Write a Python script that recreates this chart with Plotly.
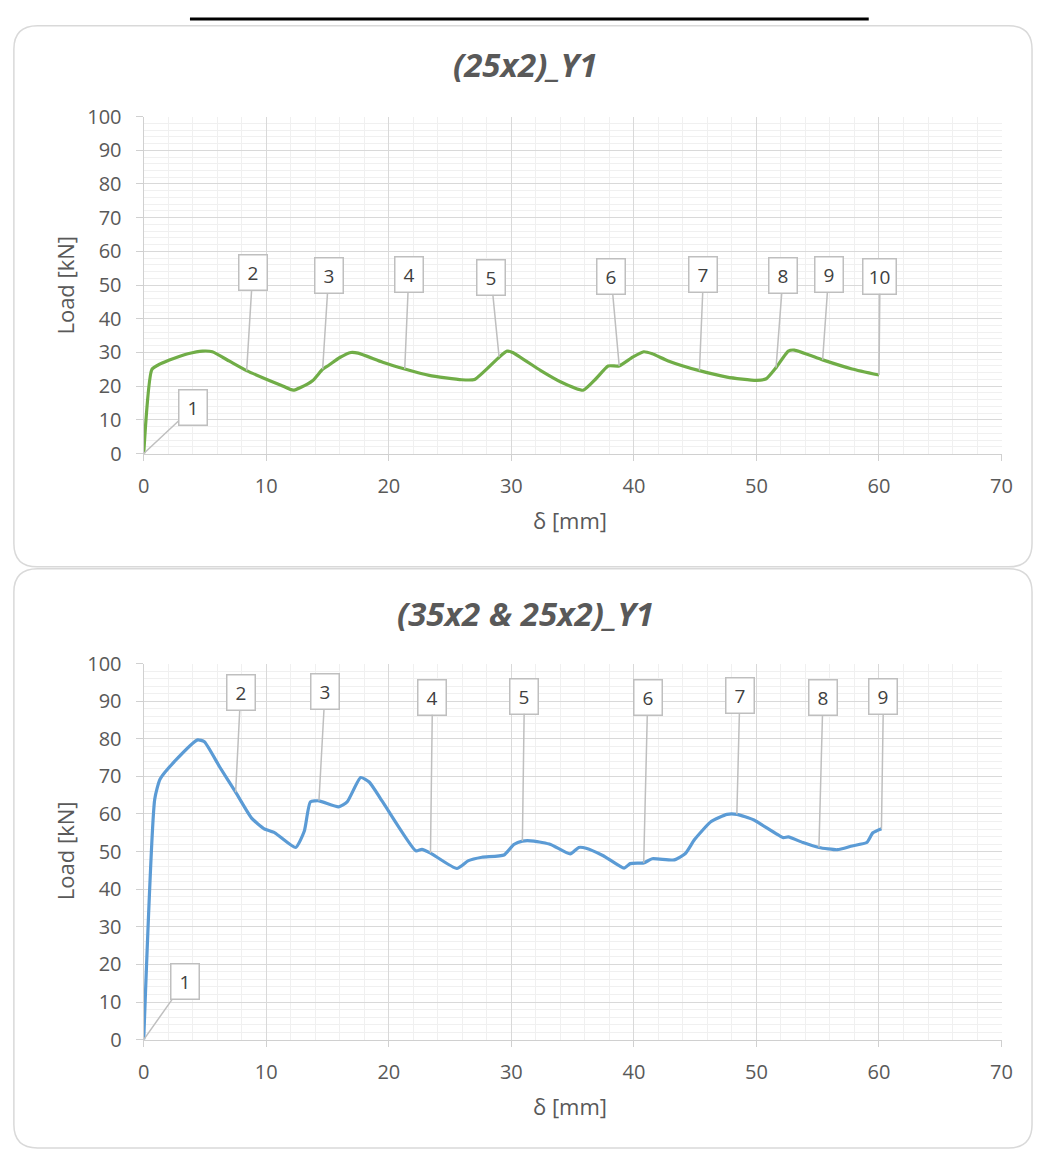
import plotly.graph_objects as go

# ---------------- data ----------------
# Chart 1: (25x2)_Y1
top_delta = [0, 0.67, 1.34, 2.5, 3.6, 4.8, 5.6, 7.0, 8.4, 9.9, 11.2, 12.2, 12.8, 13.8,
             14.6, 15.1, 16.0, 16.9, 17.5, 19.5, 21.3, 23.3, 25.95, 27.0, 29.0, 29.65,
             30.1, 32.4, 34.0, 35.85, 36.9, 37.9, 38.8, 39.9, 40.8, 41.5, 42.8, 45.35,
             47.6, 50.0, 50.8, 51.6, 52.6, 53.1, 55.4, 57.8, 60.0]
top_load = [0, 25.0, 26.6, 28.3, 29.6, 30.4, 30.2, 27.4, 24.6, 22.2, 20.3, 18.8, 19.6, 21.7,
            25.0, 26.2, 28.5, 30.0, 29.8, 27.1, 25.1, 23.2, 21.9, 22.0, 28.6, 30.4,
            30.0, 24.6, 21.3, 18.8, 22.2, 26.0, 26.0, 28.6, 30.2, 29.6, 27.5, 24.6,
            22.7, 21.7, 22.2, 25.5, 30.4, 30.7, 27.8, 25.1, 23.3]
top_label_text = ["1", "2", "3", "4", "5", "6", "7", "8", "9", "10"]
top_label_delta = [0, 8.4, 14.6, 21.3, 29.0, 38.8, 45.35, 51.6, 55.4, 60.0]
top_label_load = [0, 24.6, 25.0, 25.1, 28.6, 26.0, 24.6, 25.5, 27.8, 23.3]

# Chart 2: (35x2 & 25x2)_Y1
bot_delta = [0, 0.9, 1.34, 2.67, 4.4, 4.95, 6.2, 7.5, 8.8, 9.8, 10.7, 12.4, 13.1, 13.6,
             14.3, 15.9, 16.6, 17.7, 18.4, 19.5, 22.2, 22.7, 23.4, 25.55, 26.5, 27.6,
             29.4, 30.2, 30.9, 31.85, 33.2, 34.8, 35.5, 36.1, 37.5, 39.2, 39.7, 40.8,
             41.5, 43.3, 44.2, 44.95, 46.3, 47.6, 48.4, 49.8, 52.2, 52.6, 53.8, 55.1,
             56.6, 57.8, 59.0, 59.5, 60.2]
bot_load = [0, 64.0, 69.3, 74.5, 79.7, 79.2, 72.5, 65.8, 58.9, 56.1, 55.0, 51.1, 55.4, 63.2,
            63.5, 61.9, 63.2, 69.7, 68.5, 63.2, 50.2, 50.6, 49.6, 45.5, 47.6, 48.5,
            49.1, 51.9, 52.8, 52.8, 51.9, 49.4, 51.1, 50.9, 48.9, 45.6, 46.8, 47.0,
            48.1, 47.8, 49.5, 53.2, 58.0, 59.9, 59.9, 58.4, 53.7, 53.9, 52.4, 51.1,
            50.5, 51.5, 52.4, 55.0, 56.1]
bot_label_text = ["1", "2", "3", "4", "5", "6", "7", "8", "9"]
bot_label_delta = [0, 7.5, 14.3, 23.4, 30.9, 40.8, 48.4, 55.1, 60.2]
bot_label_load = [0, 65.8, 63.5, 49.6, 52.8, 47.0, 59.9, 51.1, 56.1]

titles = ["(25x2)_Y1", "(35x2 & 25x2)_Y1"]
x_title = "δ [mm]"
y_title = "Load [kN]"

# ---------------- layout helpers ----------------
W, H = 1045, 1163


def px(x):
    return x / W


def py(y):
    return 1 - y / H


def rounded_rect(x0, y0, x1, y1, r):
    pts = (
        f"M {px(x0 + r)},{py(y0)} L {px(x1 - r)},{py(y0)} "
        f"Q {px(x1)},{py(y0)} {px(x1)},{py(y0 + r)} "
        f"L {px(x1)},{py(y1 - r)} Q {px(x1)},{py(y1)} {px(x1 - r)},{py(y1)} "
        f"L {px(x0 + r)},{py(y1)} Q {px(x0)},{py(y1)} {px(x0)},{py(y1 - r)} "
        f"L {px(x0)},{py(y0 + r)} Q {px(x0)},{py(y0)} {px(x0 + r)},{py(y0)} Z"
    )
    return dict(type="path", path=pts, xref="paper", yref="paper",
                line=dict(color="#d9d9d9", width=1.5), fillcolor="rgba(0,0,0,0)",
                layer="below")


FONT = "Open Sans"
GRAY = "#595959"

fig = go.Figure()
fig.add_trace(go.Scatter(x=top_delta, y=top_load, mode="lines", xaxis="x", yaxis="y",
                         line=dict(color="#70ad47", width=3.2, shape="spline", smoothing=0.5),
                         showlegend=False, hoverinfo="skip"))
fig.add_trace(go.Scatter(x=bot_delta, y=bot_load, mode="lines", xaxis="x2", yaxis="y2",
                         line=dict(color="#5b9bd5", width=3.2, shape="spline", smoothing=0.5),
                         showlegend=False, hoverinfo="skip"))

plot_x = [px(140), px(1012)]
top_y = [py(450), py(105)]
bot_y = [py(1050), py(665)]

xax = dict(range=[0, 70], dtick=10, tick0=0, showgrid=True, gridcolor="#d9d9d9", gridwidth=1.3,
           minor=dict(dtick=2, showgrid=True, gridcolor="#f0f0f0", gridwidth=1.3, ticks=""),
           showline=True, linecolor="#d0d0d0", linewidth=1.3,
           ticks="outside", ticklen=6, tickcolor="#d0d0d0", tickwidth=1.3,
           ticklabelstandoff=8,
           tickfont=dict(family=FONT, size=20, color=GRAY), zeroline=False, fixedrange=True)
yax = dict(range=[0, 100], dtick=10, tick0=0, showgrid=True, gridcolor="#d9d9d9", gridwidth=1.3,
           minor=dict(dtick=2, showgrid=True, gridcolor="#f0f0f0", gridwidth=1.3, ticks=""),
           showline=True, linecolor="#d0d0d0", linewidth=1.3,
           ticks="outside", ticklen=7, tickcolor="#d0d0d0", tickwidth=1.3,
           ticklabelstandoff=10,
           tickfont=dict(family=FONT, size=20, color=GRAY), zeroline=False, fixedrange=True)

fig.update_layout(
    width=W, height=H, margin=dict(l=0, r=0, t=0, b=0),
    paper_bgcolor="white", plot_bgcolor="rgba(0,0,0,0)", showlegend=False,
    xaxis=dict(xax, domain=plot_x, anchor="y"),
    yaxis=dict(yax, domain=top_y, anchor="x"),
    xaxis2=dict(xax, domain=plot_x, anchor="y2"),
    yaxis2=dict(yax, domain=bot_y, anchor="x2"),
)

shapes = [
    rounded_rect(8, 12, 1043, 566, 24),
    rounded_rect(8, 568, 1043, 1161, 24),
    dict(type="line", xref="paper", yref="paper", x0=px(187), x1=px(877), y0=py(5), y1=py(5),
         line=dict(color="black", width=3)),
]
fig.update_layout(shapes=shapes)

annotations = []
# titles
for t, ycen in zip(titles, [52, 614]):
    annotations.append(dict(text=f"<b><i>{t}</i></b>", xref="paper", yref="paper",
                            x=px(528), y=py(ycen), showarrow=False, xanchor="center", yanchor="middle",
                            font=dict(family=FONT, size=33, color=GRAY)))
# axis titles
for ycen_x, ycen_y in [(518, 278), (1118, 857)]:
    annotations.append(dict(text=x_title, xref="paper", yref="paper", x=px(573), y=py(ycen_x),
                            showarrow=False, xanchor="center", yanchor="middle",
                            font=dict(family=FONT, size=22, color=GRAY)))
    annotations.append(dict(text=y_title, xref="paper", yref="paper", x=px(60), y=py(ycen_y),
                            showarrow=False, xanchor="center", yanchor="middle", textangle=-90,
                            font=dict(family=FONT, size=22, color=GRAY)))

# callout offsets (pixels from the labelled point to the box centre)
top_offsets = [(49, -46), (6, -98), (6, -94), (4, -94), (-8, -80), (-8, -89), (4, -96),
               (7, -92), (6, -85), (1, -99)]
bot_offsets = [(41, -58), (5, -100), (6, -109), (2, -156), (2, -145), (4, -165), (3, -119),
               (4, -150), (2, -132)]


def callouts(texts, xs, ys, offsets, xr, yr):
    out = []
    for t, x, y, (ax, ay) in zip(texts, xs, ys, offsets):
        out.append(dict(x=x, y=y, xref=xr, yref=yr, text=t, showarrow=True, arrowhead=0,
                        arrowwidth=1.5, arrowcolor="#bfbfbf", ax=ax, ay=ay,
                        bordercolor="#bfbfbf", borderwidth=1.5, borderpad=3, bgcolor="white",
                        width=21 if len(t) == 1 else 26, height=28,
                        font=dict(family=FONT, size=19, color="#404040")))
    return out


annotations += callouts(top_label_text, top_label_delta, top_label_load, top_offsets, "x", "y")
annotations += callouts(bot_label_text, bot_label_delta, bot_label_load, bot_offsets, "x2", "y2")
fig.update_layout(annotations=annotations)

fig.write_html("out.html")
